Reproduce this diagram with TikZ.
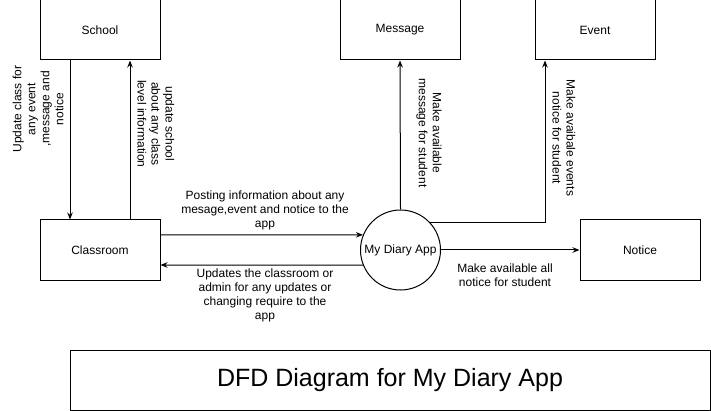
\documentclass[tikz,border=0pt]{standalone}
\usepackage{fontspec}
\setmainfont{Liberation Sans}
\usetikzlibrary{arrows.meta}

\begin{document}
\begin{tikzpicture}[x=1pt, y=-1pt, line width=1pt,
  entity/.style={draw, minimum width=120pt, minimum height=60pt, inner sep=0pt, font=\fontsize{12}{14}\selectfont},
  proc/.style={draw, circle, minimum size=80pt, inner sep=0pt, font=\fontsize{12}{14}\selectfont},
  flow/.style={-{Stealth[length=7pt,width=5.5pt]}},
  lbl/.style={align=center, inner sep=0pt, font=\fontsize{12}{14}\selectfont}]
\useasboundingbox (0,0) rectangle (711,411);

% external entities and the process
\node [entity] (school) at (100,30) {School};
\node [entity] (message) at (400,30) {Message};
\node [entity] (event) at (595,30) {Event};
\node [entity] (classroom) at (100,250) {Classroom};
\node [proc] (app) at (400.5,250) {My Diary App};
\node [entity] (notice) at (640,250) {Notice};

% data flows
\draw [flow] ([xshift=-30pt]school.south) -- ([xshift=-30pt]classroom.north);
\draw [flow] ([xshift=30pt]classroom.north) -- ([xshift=30pt]school.south);
\draw [flow] ([yshift=15pt]classroom.east) -- (app.158);
\draw [flow] (app.202) -- ([yshift=-15pt]classroom.east);
\draw [flow] (app.north) -- (message.south);
\draw [flow] (app.43) -| ([xshift=-50pt]event.south);
\draw [flow] (app.east) -- (notice.west);

% flow labels
\node [lbl, rotate=90] (l-school) at (38,109) {Update class for\\any event\\,message and\\notice};
\node [lbl, rotate=-90] (l-class) at (156,124) {update school\\about any class\\level information};
\node [lbl] (l-post) at (265,210) {Posting information about any\\mesage,event and notice to the\\app};
\node [lbl] (l-upd) at (265,295) {Updates the classroom or\\admin for any updates or\\changing require to the\\app};
\node [lbl, rotate=-90] (l-msg) at (429,133) {Make available\\message for student};
\node [lbl, rotate=-90] (l-event) at (564,138) {Make avaibale events\\notice for student};
\node [lbl] (l-notice) at (505,275) {Make available all\\notice for student};

% title
\node [draw, minimum width=640pt, minimum height=60pt, inner sep=0pt, font=\fontsize{25}{29}\selectfont] (title) at (390,380) {DFD Diagram for My Diary App};
\end{tikzpicture}
\end{document}
